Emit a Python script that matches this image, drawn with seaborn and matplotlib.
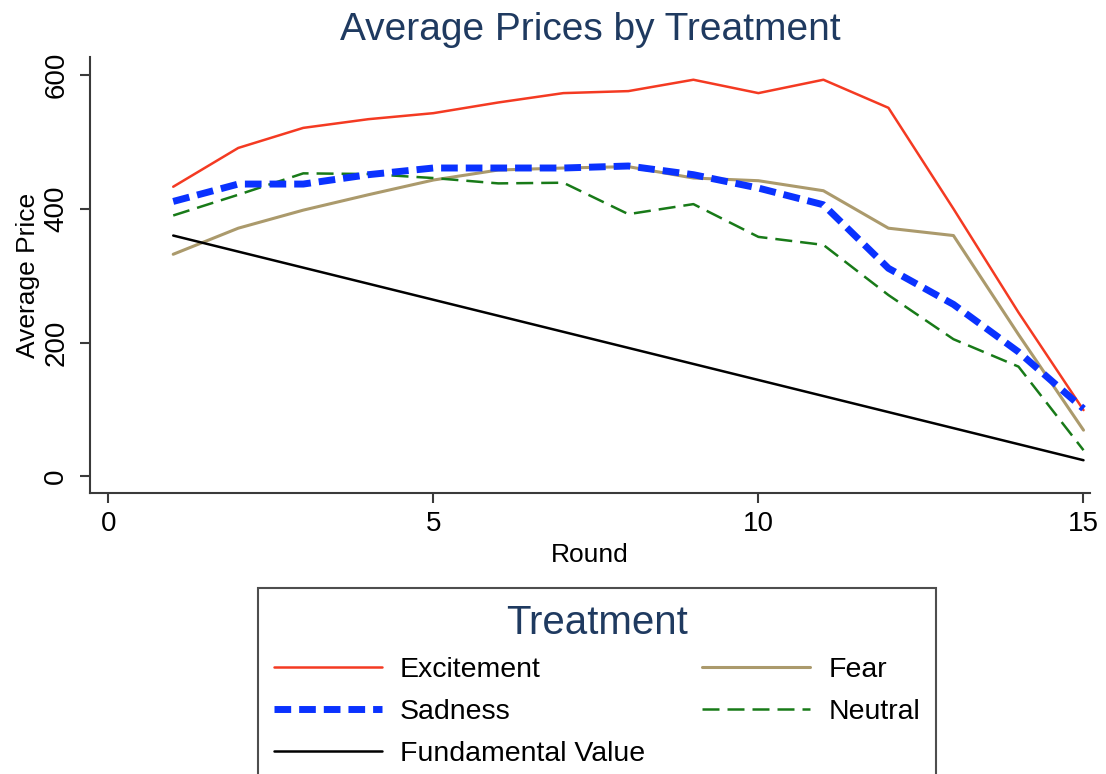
import matplotlib
matplotlib.use("Agg")
import matplotlib.pyplot as plt
import seaborn as sns
import numpy as np

rounds = list(range(1, 16))
excitement = [433, 491, 521, 534, 543, 559, 573, 576, 593, 573, 593, 551, 400, 245, 99]
sadness = [411, 437, 437, 451, 461, 461, 461, 464, 451, 431, 406, 311, 257, 186, 101]
fear = [332, 371, 398, 421, 443, 458, 461, 463, 446, 442, 427, 371, 360, 212, 69]
neutral = [390, 421, 453, 452, 446, 438, 439, 392, 407, 358, 346, 271, 205, 164, 39]
fundamental = [360, 336, 312, 288, 264, 240, 216, 192, 168, 144, 120, 96, 72, 48, 24]

x_ticks = [0, 5, 10, 15]
y_ticks = [0, 200, 400, 600]

sns.set_theme(style="white")
plt.rcParams['font.family'] = ['Liberation Sans', 'DejaVu Sans']
plt.rcParams['text.color'] = 'black'
plt.rcParams['axes.labelcolor'] = 'black'

fig = plt.figure(figsize=(11.06, 7.74), dpi=100)
ax = fig.add_axes([90/1106, 1-493/774, 1000/1106, (493-57)/774])

navy = '#1f3a60'

series = [
    ("Excitement", excitement, '#f43a22', 1.8, '-'),
    ("Sadness", sadness, '#0a32ff', 5.0, (0, (2.4, 1.15))),
    ("Fundamental Value", fundamental, '#000000', 1.8, '-'),
    ("Fear", fear, '#ab9a6c', 2.2, '-'),
    ("Neutral", neutral, '#187a18', 1.8, (0, (6.8, 3.2))),
]
draw_order = [0, 3, 4, 1, 2]
handles = {}
for i in draw_order:
    name, vals, col, lw, ls = series[i]
    sns.lineplot(x=rounds, y=vals, color=col, lw=lw, linestyle=ls, ax=ax,
                 legend=False)
    handles[name] = ax.lines[-1]

ax.set_xlim(-0.28, 15.1)
ax.set_ylim(-25, 627)
ax.set_xticks(x_ticks)
ax.set_yticks(y_ticks)
ax.set_yticklabels([str(v) for v in y_ticks], rotation=90, va='center')
for s in ['top', 'right']:
    ax.spines[s].set_visible(False)
for s in ['left', 'bottom']:
    ax.spines[s].set_color('#3a3a3a')
    ax.spines[s].set_linewidth(1.5)
ax.tick_params(axis='both', direction='out', length=7, width=1.5, color='#3a3a3a',
               labelsize=20, labelcolor='black', bottom=True, left=True)
ax.tick_params(axis='x', pad=6)
ax.tick_params(axis='y', pad=8)
ax.set_xlabel("Round", fontsize=19, labelpad=4, color='black')
ax.set_ylabel("Average Price", fontsize=19, labelpad=2, color='black')
ax.set_title("Average Prices by Treatment", fontsize=28, color=navy, pad=12)

leg_order = ["Excitement", "Sadness", "Fundamental Value", "Fear", "Neutral"]
leg = fig.legend([handles[n] for n in leg_order], leg_order, ncol=2,
                 loc='upper center', bbox_to_anchor=(597/1106, 1-588/774),
                 title="Treatment", fontsize=20.5, title_fontsize=29,
                 frameon=True, fancybox=False, edgecolor='#222222',
                 handlelength=3.8, handletextpad=0.63, columnspacing=2.0,
                 labelspacing=0.55, borderpad=0.55, borderaxespad=0)
leg.get_title().set_color(navy)
leg.get_frame().set_linewidth(1.5)
for t in leg.get_texts():
    t.set_color('black')

fig.savefig("out.png", dpi=100)
